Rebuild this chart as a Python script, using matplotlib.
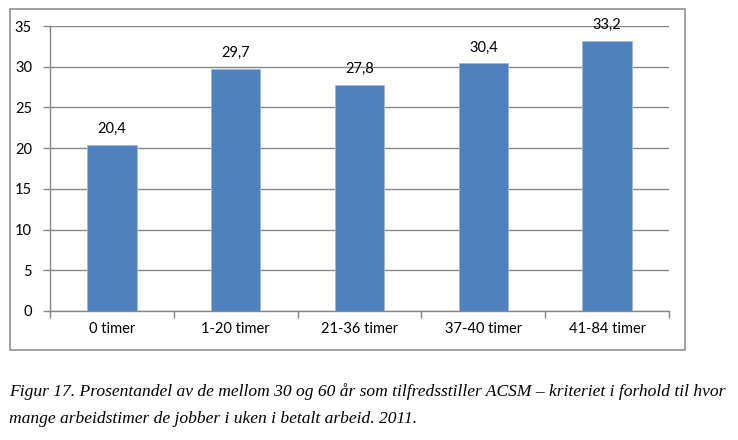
import matplotlib.pyplot as plt
from matplotlib.patches import Rectangle
import numpy as np

categories = ["0 timer", "1-20 timer", "21-36 timer", "37-40 timer", "41-84 timer"]
values = [20.4, 29.7, 27.8, 30.4, 33.2]
labels = ["20,4", "29,7", "27,8", "30,4", "33,2"]
yticks = [0, 5, 10, 15, 20, 25, 30, 35]

caption1 = "Figur 17. Prosentandel av de mellom 30 og 60 år som tilfredsstiller ACSM \u2013 kriteriet i forhold til hvor"
caption2 = "mange arbeidstimer de jobber i uken i betalt arbeid. 2011."

grey = "#868686"
bar_color = "#4F81BD"

fig = plt.figure(figsize=(7.38, 4.4), dpi=100)

# chart frame
fig.patches.append(Rectangle((0.0136, 0.2045), 0.9145, 0.775, transform=fig.transFigure,
                             fill=False, edgecolor=grey, linewidth=1.1))

ax = fig.add_axes([0.0678, 0.2932, 0.8387, 0.6477])
x = np.arange(len(categories))
ax.bar(x, values, width=0.4, color=bar_color, edgecolor="#9DB9DC", linewidth=0.6, zorder=3)

for xi, v, lab in zip(x, values, labels):
    ax.text(xi, v + 1.1, lab, ha="center", va="bottom", fontsize=10.5, family="Lato", color="black")

ax.set_xlim(-0.5, len(categories) - 0.5)
ax.set_ylim(0, 35)
ax.set_yticks(yticks)
ax.set_yticklabels([str(t) for t in yticks], fontsize=10.5, family="Lato")
ax.yaxis.grid(True, color=grey, linewidth=1)
ax.set_axisbelow(True)

ax.set_xticks(x)
ax.set_xticklabels(categories, fontsize=10.5, family="Lato")
ax.tick_params(axis="x", length=0, pad=8)
ax.set_xticks(np.arange(len(categories) + 1) - 0.5, minor=True)
ax.tick_params(axis="x", which="minor", length=5, color=grey, width=1)
ax.tick_params(axis="y", length=5, color=grey, width=1, pad=8)

for s in ["top", "right"]:
    ax.spines[s].set_visible(False)
for s in ["left", "bottom"]:
    ax.spines[s].set_color(grey)
    ax.spines[s].set_linewidth(1)

fig.text(0.012, 0.111, caption1, fontsize=12.6, family="Liberation Serif", style="italic", va="center")
fig.text(0.012, 0.048, caption2, fontsize=12.6, family="Liberation Serif", style="italic", va="center")

fig.savefig("out.png", dpi=100)
